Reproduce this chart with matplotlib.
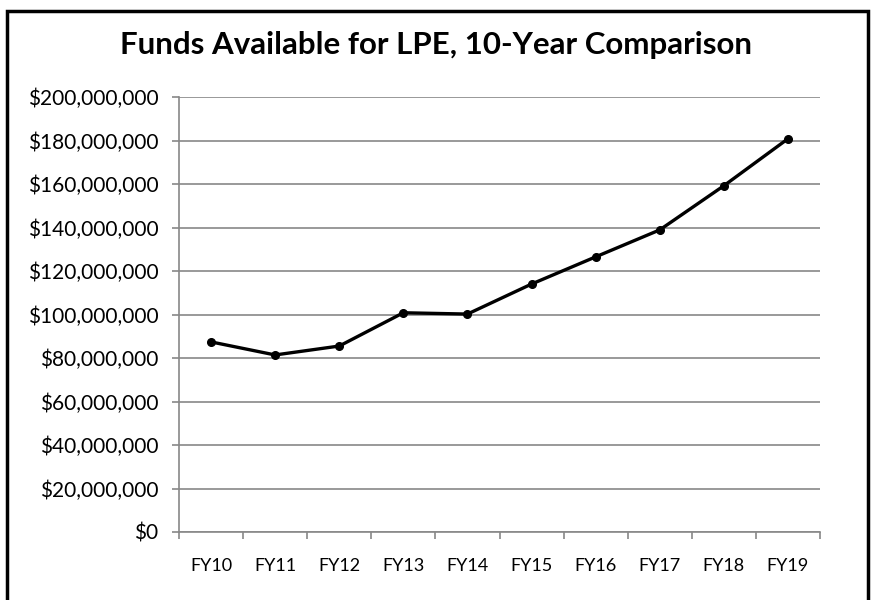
import matplotlib
matplotlib.use('Agg')
import matplotlib.pyplot as plt
from matplotlib.patches import Rectangle
from matplotlib.ticker import FuncFormatter, FixedLocator

# data
years = ['FY10', 'FY11', 'FY12', 'FY13', 'FY14', 'FY15', 'FY16', 'FY17', 'FY18', 'FY19']
funds = [87.4e6, 81.4e6, 85.5e6, 100.8e6, 100.2e6, 114.0e6, 126.5e6, 138.9e6, 159.2e6, 180.8e6]

plt.rcParams['font.family'] = ['Lato', 'DejaVu Sans']

W, H = 871, 600
fig = plt.figure(figsize=(W / 100, H / 100), dpi=100)
ax = fig.add_axes([179 / W, 1 - 532 / H, (820 - 179) / W, (532 - 97) / H])

xs = [i + 0.5 for i in range(len(years))]
ax.plot(xs, funds, color='black', lw=2.4, marker='o', ms=5.5, solid_joinstyle='round')

ax.set_xlim(0, len(years))
ax.set_ylim(0, 200e6)
ax.set_yticks([i * 20e6 for i in range(11)])
ax.yaxis.set_major_formatter(FuncFormatter(lambda v, p: '${:,.0f}'.format(v)))
ax.grid(axis='y', color='#888888', lw=1.2)
ax.set_axisbelow(True)

# category boundaries get the tick marks, labels sit between them
ax.xaxis.set_major_locator(FixedLocator(range(len(years) + 1)))
ax.xaxis.set_minor_locator(FixedLocator(xs))
ax.set_xticklabels([''] * (len(years) + 1))
ax.set_xticklabels(years, minor=True)
ax.tick_params(axis='x', which='major', length=5, color='#888888', width=1.2)
ax.tick_params(axis='x', which='minor', length=0, pad=19, labelsize=13)
ax.tick_params(axis='y', length=5, color='#888888', width=1.2, labelsize=15, pad=10)

for s in ['top', 'right']:
    ax.spines[s].set_visible(False)
for s in ['left', 'bottom']:
    ax.spines[s].set_color('#888888')
    ax.spines[s].set_linewidth(1.2)

fig.text(0.5, 1 - 45 / H, 'Funds Available for LPE, 10-Year Comparison',
         ha='center', va='center', fontsize=22.5, fontweight='bold')

fig.patches.append(Rectangle((7 / W, -0.05), (868 - 7) / W, 1.05 - 11 / H,
                             transform=fig.transFigure, fill=False,
                             edgecolor='black', lw=2.5))

fig.savefig('out.png', dpi=100)
